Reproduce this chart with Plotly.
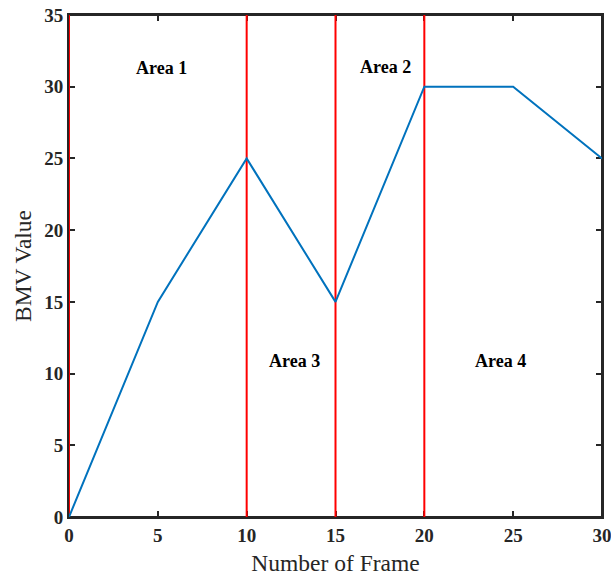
import plotly.graph_objects as go

frames = [0, 5, 10, 15, 20, 25, 30]
bmv = [0, 15, 25, 15, 30, 30, 25]
boundaries = [0, 10, 15, 20]
area_labels = ["Area 1", "Area 2", "Area 3", "Area 4"]
area_x = [5.2, 17.8, 12.7, 24.3]
area_y = [31.3, 31.4, 10.9, 10.9]
xticks = [0, 5, 10, 15, 20, 25, 30]
yticks = [0, 5, 10, 15, 20, 25, 30, 35]

fig = go.Figure()
for b in boundaries:
    fig.add_trace(go.Scatter(x=[b, b], y=[0, 35], mode="lines",
                             line=dict(color="#ff0000", width=2), showlegend=False,
                             hoverinfo="skip", cliponaxis=False))
fig.add_trace(go.Scatter(x=frames, y=bmv, mode="lines",
                         line=dict(color="#0072BD", width=2), showlegend=False))

for t, x, y in zip(area_labels, area_x, area_y):
    fig.add_annotation(x=x, y=y, text="<b>" + t + "</b>", showarrow=False,
                       font=dict(family="Liberation Serif", size=18, color="black"))

# frame around the plotting area
fig.add_shape(type="rect", xref="x domain", yref="y domain", x0=0, x1=1, y0=0, y1=1,
              line=dict(color="#262626", width=2), layer="below")

axis_common = dict(showgrid=False, zeroline=False, showline=True, mirror="ticks",
                   linecolor="#262626", linewidth=2, ticks="inside", ticklen=6,
                   tickwidth=1.5, tickcolor="#262626", automargin=False,
                   layer="below traces", ticklabeloverflow="allow",
                   tickfont=dict(family="Liberation Serif", size=19, color="#262626"))
fig.update_xaxes(range=[0, 30], tickvals=xticks,
                 ticktext=["<b>%d</b>" % v for v in xticks],
                 title=dict(text="Number of Frame", standoff=10,
                            font=dict(family="Liberation Serif", size=23.5, color="#262626")),
                 **axis_common)
fig.update_yaxes(range=[0, 35], tickvals=yticks,
                 ticktext=["<b>%d</b>" % v for v in yticks],
                 title=dict(text="BMV Value", standoff=6,
                            font=dict(family="Liberation Serif", size=23.5, color="#262626")),
                 **axis_common)
fig.update_layout(width=611, height=578, margin=dict(l=69, r=9, t=15, b=61),
                  plot_bgcolor="white", paper_bgcolor="white")
fig.write_html("out.html", config={"displayModeBar": False},
               post_script="document.body.style.margin='0';document.body.style.overflow='hidden';")
